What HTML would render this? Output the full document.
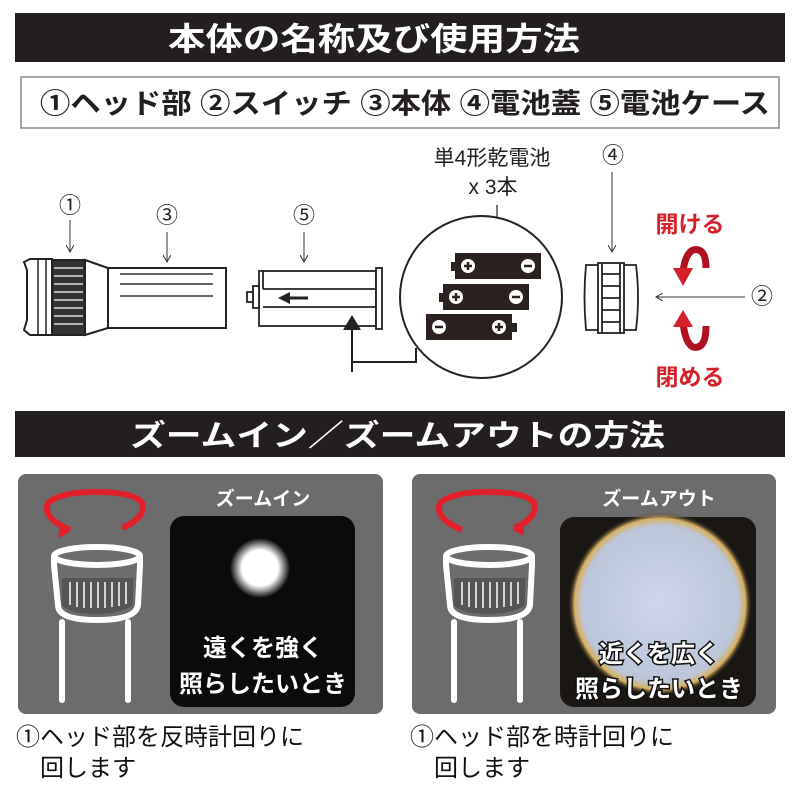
<!DOCTYPE html>
<html><head><meta charset="utf-8"><style>
html,body{margin:0;padding:0;background:#fff;}
svg{display:block;}
text{font-family:"Liberation Sans","Noto Sans CJK JP",sans-serif;}
</style></head><body>
<svg width="800" height="800" viewBox="0 0 800 800" xmlns="http://www.w3.org/2000/svg">
<defs>
<radialGradient id="spot" cx="0.5" cy="0.5" r="0.5">
<stop offset="0" stop-color="#fff"/><stop offset="0.6" stop-color="#fff"/><stop offset="1" stop-color="#fff" stop-opacity="0"/>
</radialGradient>
<radialGradient id="wide" cx="0.5" cy="0.5" r="0.5">
<stop offset="0" stop-color="#cdd6ea"/><stop offset="0.85" stop-color="#bcc6da"/><stop offset="0.93" stop-color="#d8b060"/><stop offset="1" stop-color="#2a2218" stop-opacity="0"/>
</radialGradient>
<marker id="ah" markerWidth="8" markerHeight="8" refX="7" refY="4" orient="auto"><path d="M0,0 L7,4 L0,8" fill="none" stroke="#333" stroke-width="1"/></marker>
</defs>

<rect x="15" y="13" width="770" height="49" fill="#231f20"/>
<text x="168" y="50" font-size="32" fill="#fff" font-weight="bold" textLength="412" lengthAdjust="spacingAndGlyphs">本体の名称及び使用方法</text>
<rect x="21" y="77" width="758" height="51" fill="#fff" stroke="#888" stroke-width="1.5"/>
<text x="40" y="113" font-size="28" fill="#231f20" font-weight="bold" textLength="730" lengthAdjust="spacingAndGlyphs">①ヘッド部 ②スイッチ ③本体 ④電池蓋 ⑤電池ケース</text>

<g font-size="22" fill="#222" text-anchor="middle">
<text x="70" y="213">①</text><text x="167" y="223">③</text><text x="304" y="223">⑤</text>
<text x="613" y="163">④</text><text x="762" y="304">②</text>
</g>
<g stroke="#333" stroke-width="1" fill="none">
<line x1="70" y1="220" x2="70" y2="252" marker-end="url(#ah)"/>
<line x1="167" y1="232" x2="167" y2="262" marker-end="url(#ah)"/>
<line x1="304" y1="232" x2="304" y2="262" marker-end="url(#ah)"/>
<line x1="612" y1="172" x2="612" y2="252" marker-end="url(#ah)"/>
<line x1="745" y1="297" x2="656" y2="297" marker-end="url(#ah)"/>
</g>

<g stroke="#222" stroke-width="2" fill="#fff">
<path d="M24,262 L30,259 L52,259 L52,335 L30,335 L24,330 L27,320 L27,270 Z"/>
<rect x="52" y="260" width="33" height="75" fill="#333"/>
<path d="M85,260 L108,268 L108,328 L85,335 Z"/>
<rect x="108" y="268" width="118" height="60"/>
</g>
<g stroke="#fff" stroke-width="1.2">
<line x1="54" y1="268" x2="83" y2="268"/><line x1="54" y1="276" x2="83" y2="276"/><line x1="54" y1="284" x2="83" y2="284"/><line x1="54" y1="292" x2="83" y2="292"/><line x1="54" y1="300" x2="83" y2="300"/><line x1="54" y1="308" x2="83" y2="308"/><line x1="54" y1="316" x2="83" y2="316"/><line x1="54" y1="324" x2="83" y2="324"/>
</g>
<line x1="38" y1="260" x2="38" y2="335" stroke="#222" stroke-width="1.5"/>
<line x1="46" y1="260" x2="46" y2="335" stroke="#222" stroke-width="1.5"/>
<g stroke="#333" stroke-width="1.5"><line x1="120" y1="274" x2="213" y2="274"/><line x1="120" y1="284" x2="213" y2="284"/><line x1="120" y1="296" x2="213" y2="296"/></g>

<g stroke="#222" stroke-width="1.8" fill="#fff">
<rect x="259" y="271" width="117" height="55"/>
<rect x="376" y="268" width="6" height="61"/>
<rect x="253" y="286" width="6" height="22"/>
<rect x="247" y="292" width="6" height="10"/>
<line x1="263" y1="271" x2="263" y2="289"/><line x1="263" y1="289" x2="376" y2="289"/>
<line x1="263" y1="307" x2="376" y2="307"/>
</g>
<line x1="308" y1="298" x2="285" y2="298" stroke="#222" stroke-width="3"/>
<path d="M278,298 L290,292 L290,304 Z" fill="#222"/>
<path d="M352,372 L352,320" stroke="#222" stroke-width="2" fill="none"/>
<path d="M343,330 L352,315 L361,330 Z" fill="#222"/>
<path d="M352,362 L416,362 L416,348" stroke="#222" stroke-width="2" fill="none"/>

<text x="492" y="165" font-size="21" fill="#222" text-anchor="middle">単4形乾電池</text>
<text x="493" y="194" font-size="21" fill="#222" text-anchor="middle">x 3本</text>
<line x1="497" y1="205" x2="497" y2="254" stroke="#222" stroke-width="1.2"/>
<circle cx="481" cy="297" r="81" fill="#fff" stroke="#222" stroke-width="2"/>
<g fill="#2b2220">
<rect x="455" y="253" width="86" height="26"/><rect x="451" y="262" width="5" height="9"/>
<rect x="443" y="284" width="86" height="26"/><rect x="439" y="293" width="5" height="9"/>
<rect x="426" y="314" width="86" height="26"/><rect x="512" y="323" width="5" height="9"/>
</g>
<g fill="#fff">
<circle cx="468" cy="266" r="7"/><circle cx="528" cy="266" r="7"/>
<circle cx="456" cy="297" r="7"/><circle cx="516" cy="297" r="7"/>
<circle cx="439" cy="327" r="7"/><circle cx="499" cy="327" r="7"/>
</g>
<g stroke="#2b2220" stroke-width="2.5">
<line x1="464" y1="266" x2="472" y2="266"/><line x1="468" y1="262" x2="468" y2="270"/><line x1="524" y1="266" x2="532" y2="266"/>
<line x1="452" y1="297" x2="460" y2="297"/><line x1="456" y1="293" x2="456" y2="301"/><line x1="512" y1="297" x2="520" y2="297"/>
<line x1="435" y1="327" x2="443" y2="327"/><line x1="495" y1="327" x2="503" y2="327"/><line x1="499" y1="323" x2="499" y2="331"/>
</g>

<g stroke="#222" stroke-width="1.8" fill="#fff">
<path d="M586,265 Q583,297 586,330 L636,330 Q640,297 636,265 Z"/>
<rect x="598" y="263" width="26" height="70"/>
<line x1="602" y1="263" x2="602" y2="333"/><line x1="620" y1="263" x2="620" y2="333"/>
<line x1="602" y1="274" x2="620" y2="274"/><line x1="602" y1="286" x2="620" y2="286"/><line x1="602" y1="298" x2="620" y2="298"/><line x1="602" y1="310" x2="620" y2="310"/><line x1="602" y1="322" x2="620" y2="322"/>
</g>

<text x="690" y="232" font-size="23" fill="#d4202b" text-anchor="middle" font-weight="bold">開ける</text>
<text x="690" y="385" font-size="23" fill="#d4202b" text-anchor="middle" font-weight="bold">閉める</text>
<path d="M706,268 Q706,247 693,250 Q685,254 683,272" stroke="#b01020" stroke-width="7" fill="none"/>
<path d="M673,268 L683,286 L693,268 Z" fill="#d4202b"/>
<path d="M706,326 Q706,350 693,347 Q685,343 683,322" stroke="#b01020" stroke-width="7" fill="none"/>
<path d="M673,327 L683,310 L693,327 Z" fill="#d4202b"/>

<rect x="15" y="411" width="770" height="46" fill="#231f20"/>
<text x="130" y="446" font-size="30" fill="#fff" font-weight="bold" textLength="535" lengthAdjust="spacingAndGlyphs">ズームイン／ズームアウトの方法</text>

<rect x="18" y="474" width="365" height="240" rx="8" fill="#6c6c6c"/>
<rect x="412" y="474" width="364" height="240" rx="8" fill="#6c6c6c"/>

<rect x="170" y="516" width="185" height="191" rx="14" fill="#0c0b0b"/>
<circle cx="260" cy="568" r="30" fill="url(#spot)"/>
<text x="263" y="505" font-size="19" fill="#fff" text-anchor="middle" font-weight="bold">ズームイン</text>
<text x="263" y="656" font-size="24" fill="#fff" text-anchor="middle" font-weight="bold">遠くを強く</text>
<text x="263" y="692" font-size="24" fill="#fff" text-anchor="middle" font-weight="bold">照らしたいとき</text>

<rect x="560" y="517" width="196" height="190" rx="14" fill="#1a1612"/>
<circle cx="660" cy="604" r="92" fill="url(#wide)"/>
<text x="659" y="505" font-size="19" fill="#fff" text-anchor="middle" font-weight="bold">ズームアウト</text>
<text x="659" y="662" font-size="24" fill="#fff" text-anchor="middle" font-weight="bold" stroke="#111" stroke-width="3" paint-order="stroke">近くを広く</text>
<text x="659" y="697" font-size="24" fill="#fff" text-anchor="middle" font-weight="bold" stroke="#111" stroke-width="3" paint-order="stroke">照らしたいとき</text>

<g>
<path d="M70,530 Q42,518 48,503 Q60,492 95,492 Q135,492 142,503 Q146,518 122,528" stroke="#e2202a" stroke-width="6" fill="none"/>
<g fill="none" stroke="#fff" stroke-width="6">
<ellipse cx="97" cy="556" rx="43" ry="9"/>
<path d="M54,565 L58,605 Q58,620 97,620 Q136,620 138,605 L140,565"/>
<line x1="54" y1="556" x2="54" y2="566"/><line x1="140" y1="556" x2="140" y2="566"/>
<line x1="62" y1="622" x2="62" y2="700" stroke-linecap="round"/>
<line x1="128" y1="622" x2="128" y2="700" stroke-linecap="round"/>
</g>
<path d="M62,578 L133,578 L133,605 Q120,614 97,614 Q70,614 62,605 Z" fill="#555"/>
<g stroke="#fff" stroke-width="1.5">
<line x1="70" y1="582" x2="70" y2="605"/><line x1="77" y1="582" x2="77" y2="607"/><line x1="84" y1="582" x2="84" y2="608"/><line x1="91" y1="582" x2="91" y2="608"/><line x1="98" y1="582" x2="98" y2="608"/><line x1="105" y1="582" x2="105" y2="608"/><line x1="112" y1="582" x2="112" y2="607"/><line x1="119" y1="582" x2="119" y2="606"/><line x1="126" y1="582" x2="126" y2="604"/>
</g>
</g>
<path d="M60,523 L70,532 L58,538 Z" fill="#e2202a"/>
<g transform="translate(392,0)">
<path d="M70,530 Q42,518 48,503 Q60,492 95,492 Q135,492 142,503 Q146,518 122,528" stroke="#e2202a" stroke-width="6" fill="none"/>
<g fill="none" stroke="#fff" stroke-width="6">
<ellipse cx="97" cy="556" rx="43" ry="9"/>
<path d="M54,565 L58,605 Q58,620 97,620 Q136,620 138,605 L140,565"/>
<line x1="54" y1="556" x2="54" y2="566"/><line x1="140" y1="556" x2="140" y2="566"/>
<line x1="62" y1="622" x2="62" y2="700" stroke-linecap="round"/>
<line x1="128" y1="622" x2="128" y2="700" stroke-linecap="round"/>
</g>
<path d="M62,578 L133,578 L133,605 Q120,614 97,614 Q70,614 62,605 Z" fill="#555"/>
<g stroke="#fff" stroke-width="1.5">
<line x1="70" y1="582" x2="70" y2="605"/><line x1="77" y1="582" x2="77" y2="607"/><line x1="84" y1="582" x2="84" y2="608"/><line x1="91" y1="582" x2="91" y2="608"/><line x1="98" y1="582" x2="98" y2="608"/><line x1="105" y1="582" x2="105" y2="608"/><line x1="112" y1="582" x2="112" y2="607"/><line x1="119" y1="582" x2="119" y2="606"/><line x1="126" y1="582" x2="126" y2="604"/>
</g>
<path d="M132,522 L120,530 L132,536 Z" fill="#e2202a"/>
</g>

<g font-size="24" fill="#111">
<text x="16" y="745">①ヘッド部を反時計回りに</text>
<text x="40" y="776">回します</text>
<text x="410" y="745">①ヘッド部を時計回りに</text>
<text x="434" y="776">回します</text>
</g>
</svg>
</body></html>
